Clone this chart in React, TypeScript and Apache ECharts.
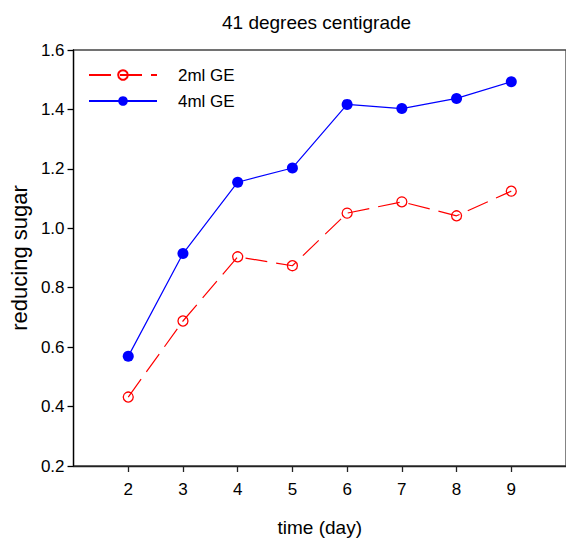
import React, { useEffect, useRef } from "react";
import * as echarts from "echarts";

const axisDays = ["1", "2", "3", "4", "5", "6", "7", "8", "9", "10"];
const days = ["2", "3", "4", "5", "6", "7", "8", "9"];
const ge2ml = [0.432, 0.688, 0.904, 0.874, 1.051, 1.089, 1.042, 1.125];
const ge4ml = [0.569, 0.915, 1.155, 1.203, 1.417, 1.403, 1.437, 1.493];
const yTicks = [0.2, 0.4, 0.6, 0.8, 1.0, 1.2, 1.4, 1.6];

const FONT = "Liberation Sans, Arial, sans-serif";

export default function App() {
  const ref = useRef<HTMLDivElement>(null);
  useEffect(() => {
    document.body.style.margin = "0";
    const chart = echarts.init(ref.current!, null, { renderer: "svg" });
    const shown = (v: string) => days.indexOf(v) >= 0;
    chart.setOption({
      animation: false,
      backgroundColor: "#ffffff",
      title: {
        text: "41 degrees centigrade",
        left: 217,
        top: 8,
        textStyle: { fontFamily: FONT, fontSize: 19, fontWeight: "normal", color: "#000" },
      },
      legend: {
        left: 83,
        top: 60,
        orient: "vertical",
        itemWidth: 68,
        itemHeight: 12,
        itemGap: 6,
        textStyle: {
          fontFamily: FONT,
          fontSize: 17,
          color: "#000",
          lineHeight: 20,
          padding: [0, 0, 0, 16],
        },
        data: ["2ml GE", "4ml GE"],
      },
      grid: {
        left: 72.5,
        top: 50,
        width: 500.3,
        height: 419.7,
        show: true,
        borderColor: "#444",
        borderWidth: 1.3,
        backgroundColor: "transparent",
      },
      xAxis: {
        type: "category",
        data: axisDays,
        boundaryGap: false,
        name: "time (day)",
        nameLocation: "middle",
        nameGap: 52,
        nameTextStyle: { fontFamily: FONT, fontSize: 19, color: "#000" },
        axisLine: { lineStyle: { color: "#222", width: 1.3 } },
        axisTick: {
          inside: false,
          length: 6,
          interval: (i: number, v: string) => shown(v),
          lineStyle: { color: "#222", width: 1.3 },
        },
        axisLabel: {
          interval: (i: number, v: string) => shown(v),
          margin: 15,
          fontFamily: FONT,
          fontSize: 17,
          color: "#000",
        },
        splitLine: { show: false },
      },
      yAxis: {
        type: "value",
        min: yTicks[0],
        max: yTicks[yTicks.length - 1],
        interval: 0.2,
        name: "reducing sugar",
        nameLocation: "middle",
        nameGap: 39,
        nameTextStyle: { fontFamily: FONT, fontSize: 22, color: "#000" },
        axisLine: { show: true, lineStyle: { color: "#000", width: 1.3 } },
        axisTick: { show: true, inside: false, length: 6, lineStyle: { color: "#000", width: 1.3 } },
        axisLabel: {
          margin: 9,
          fontFamily: FONT,
          fontSize: 17,
          color: "#000",
          formatter: (v: number) => v.toFixed(1),
        },
        splitLine: { show: false },
      },
      series: [
        {
          name: "2ml GE",
          type: "line",
          data: days.map((d, i) => [d, ge2ml[i]]),
          symbol: "circle",
          symbolSize: 10,
          lineStyle: { color: "#ff0000", width: 1.2, type: [22, 9] },
          itemStyle: { color: "rgba(255,255,255,0)", borderColor: "#ff0000", borderWidth: 1.3 },
          z: 2,
        },
        {
          name: "4ml GE",
          type: "line",
          data: days.map((d, i) => [d, ge4ml[i]]),
          symbol: "circle",
          symbolSize: 11,
          lineStyle: { color: "#0000ff", width: 1.2 },
          itemStyle: { color: "#0000ff" },
          z: 3,
        },
      ],
    });
    return () => chart.dispose();
  }, []);
  return <div ref={ref} style={{ width: 566, height: 542 }} />;
}
